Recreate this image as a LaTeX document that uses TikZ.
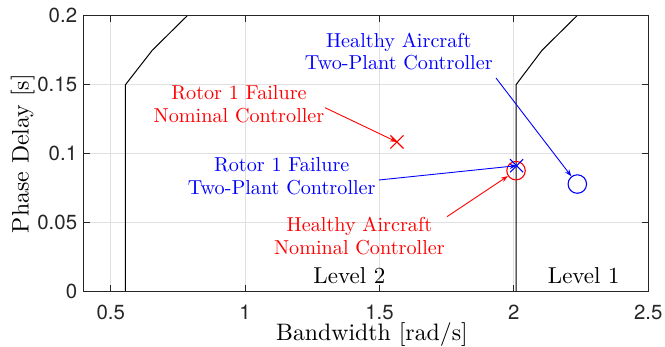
\documentclass[tikz,border=0pt]{standalone}
\usepackage{fontspec}
\newfontfamily\tickfont{TeX Gyre Heros}
\usetikzlibrary{arrows.meta,shapes.misc}
\definecolor{axgray}{rgb}{0.15,0.15,0.15}
\definecolor{gridgray}{rgb}{0.88,0.88,0.88}
\definecolor{mred}{rgb}{1,0,0}
\definecolor{mblue}{rgb}{0,0,1}
\tikzset{
  annot/.style={font=\fontsize{10}{11.2}\selectfont, scale=2.02, inner sep=0pt, anchor=base},
  axlbl/.style={font=\fontsize{10}{12}\selectfont, scale=2.38, inner sep=0pt, anchor=base},
  lvl/.style={font=\fontsize{10}{12}\selectfont, scale=2.3, inner sep=0pt, anchor=base},
  ticklbl/.style={font=\fontsize{20.4}{24}\tickfont, inner sep=0pt, text=axgray},
  xmark/.style={cross out, draw, minimum size=12pt, inner sep=0pt, line width=1.1pt},
  omark/.style={circle, draw, minimum size=18.5pt, inner sep=0pt, line width=1.1pt},
  callout/.style={-{Stealth[length=7pt,width=5pt]}, line width=0.9pt},
  bound/.style={black, line width=1pt},
  gridln/.style={gridgray, line width=0.9pt},
  axln/.style={axgray, line width=0.9pt},
}
\begin{document}
\begin{tikzpicture}
\useasboundingbox (0,0) rectangle (665pt,347pt);
\begin{scope}[shift={(-23.72pt,55.3pt)}, x=268.8pt, y=1380pt]
  % grid
  \foreach \gx in {0.5,1,1.5,2} \draw[gridln] (\gx,0) -- (\gx,0.2);
  \foreach \gy in {0.05,0.1,0.15} \draw[gridln] (0.4,\gy) -- (2.5,\gy);
  % level boundaries
  \draw[bound] (0.555,0) -- (0.555,0.15) -- (0.655,0.175) -- (0.785,0.2);
  \draw[bound] (2.008,0) -- (2.008,0.15) -- (2.105,0.175) -- (2.235,0.2);
  % axes box and ticks
  \draw[axln] (0.4,0) rectangle (2.5,0.2);
  \foreach \gx in {0.5,1,1.5,2} {
    \draw[axln] (\gx,0) -- ++(0,6.5pt);
    \draw[axln] (\gx,0.2) -- ++(0,-6.5pt);
  }
  \foreach \gy in {0.05,0.1,0.15} {
    \draw[axln] (0.4,\gy) -- ++(6.5pt,0);
    \draw[axln] (2.5,\gy) -- ++(-6.5pt,0);
  }
  % tick labels
  \foreach \gx/\nm in {0.5/a,1/b,1.5/c,2/d,2.5/e}
    \node[ticklbl, anchor=base] (xt\nm) at ([yshift=-27.6pt]\gx,0) {\gx};
  \foreach \gy/\nm in {0/a,0.05/b,0.1/c,0.15/d,0.2/e}
    \node[ticklbl, anchor=east] (yt\nm) at ([xshift=-6.5pt]0.4,\gy) {\gy};
  % markers
  \node[xmark, mred] (rx) at (1.565,0.1085) {};
  \node[omark, mred] (rc) at (2.008,0.0877) {};
  \node[xmark, mblue] (bx) at (2.010,0.0913) {};
  \node[omark, mblue] (bc) at (2.236,0.078) {};
\end{scope}

% axis labels
\node[axlbl] (xlab) at (372pt,6.3pt) {Bandwidth [rad/s]};
\node[axlbl, rotate=90] (ylab) at (28.7pt,193.3pt) {Phase Delay [s]};
% level labels
\node[lvl] (lv2) at (349.4pt,63.7pt) {Level 2};
\node[lvl] (lv1) at (583.8pt,63.7pt) {Level 1};

% annotations
\node[annot, text=mblue] (bh1) at (398.8pt,299.7pt) {Healthy Aircraft};
\node[annot, text=mblue] (bh2) at (398.8pt,277pt) {Two-Plant Controller};
\node[annot, text=mred] (rr1) at (239pt,247pt) {Rotor 1 Failure};
\node[annot, text=mred] (rr2) at (239pt,224pt) {Nominal Controller};
\node[annot, text=mblue] (br1) at (281.7pt,175.3pt) {Rotor 1 Failure};
\node[annot, text=mblue] (br2) at (281.7pt,152.3pt) {Two-Plant Controller};
\node[annot, text=mred] (rh1) at (359.4pt,115.3pt) {Healthy Aircraft};
\node[annot, text=mred] (rh2) at (359.4pt,92.5pt) {Nominal Controller};

% callout arrows
\coordinate (bhs) at (496pt,269pt);
\coordinate (rrs) at (325pt,239.3pt);
\coordinate (brs) at (379pt,167pt);
\coordinate (rhs) at (447pt,130.3pt);
\draw[callout, mblue] (bhs) -- (bc);
\draw[callout, mred] (rrs) -- (rx.center);
\draw[callout, mblue] (brs) -- (bx.center);
\draw[callout, mred] (rhs) -- (rc);
\end{tikzpicture}
\end{document}
